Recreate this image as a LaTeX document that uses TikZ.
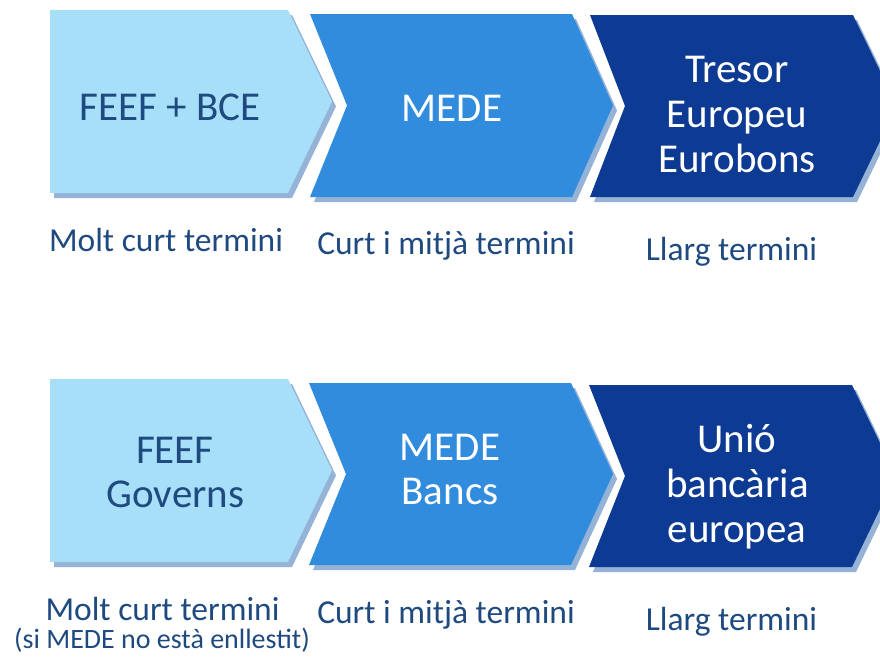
\documentclass[tikz,border=0pt]{standalone}
\usepackage{fontspec}
\setmainfont{Carlito}
\definecolor{lightbox}{HTML}{A7DFF8}
\definecolor{midbox}{HTML}{318CDD}
\definecolor{darkbox}{HTML}{0D3A92}
\definecolor{shade}{HTML}{95B3D7}
\definecolor{ink}{HTML}{1F4A80}
\begin{document}
\begin{tikzpicture}[x=1pt,y=-1pt,
  shadowed/.style={fill=shade, shift={(4,5)}},
  boxtext/.style={font=\fontsize{41}{45}\selectfont, anchor=base, inner sep=0pt},
  labeltext/.style={font=\fontsize{33.5}{36}\selectfont, color=ink, anchor=base, inner sep=0pt},
  notetext/.style={font=\fontsize{28}{30}\selectfont, color=ink, anchor=base, inner sep=0pt}]
\useasboundingbox (0,0) rectangle (880,656);
\fill[white] (0,0) rectangle (880,656);

% ---- upper row of chevrons ----
\fill[shadowed] (50,10) -- (288,10) -- (332,101.5) -- (288,193) -- (50,193) -- cycle;
\fill[lightbox] (50,10) -- (288,10) -- (332,101.5) -- (288,193) -- (50,193) -- cycle;
\fill[shadowed] (310,14) -- (572,14) -- (613,105.5) -- (572,197) -- (310,197) -- (347,105.5) -- cycle;
\fill[midbox] (310,14) -- (572,14) -- (613,105.5) -- (572,197) -- (310,197) -- (347,105.5) -- cycle;
\fill[shadowed] (590,15) -- (853,15) -- (897,106) -- (853,197) -- (590,197) -- (625,106) -- cycle;
\fill[darkbox] (590,15) -- (853,15) -- (897,106) -- (853,197) -- (590,197) -- (625,106) -- cycle;

% ---- lower row of chevrons ----
\fill[shadowed] (50,379) -- (288,379) -- (332,470.5) -- (288,562) -- (50,562) -- cycle;
\fill[lightbox] (50,379) -- (288,379) -- (332,470.5) -- (288,562) -- (50,562) -- cycle;
\fill[shadowed] (309,383) -- (571,383) -- (613,474) -- (571,565) -- (309,565) -- (346,474) -- cycle;
\fill[midbox] (309,383) -- (571,383) -- (613,474) -- (571,565) -- (309,565) -- (346,474) -- cycle;
\fill[shadowed] (589,385) -- (852,385) -- (896,476) -- (852,567) -- (589,567) -- (625,476) -- cycle;
\fill[darkbox] (589,385) -- (852,385) -- (896,476) -- (852,567) -- (589,567) -- (625,476) -- cycle;

% ---- texts in the upper chevrons ----
\node[boxtext, text=ink] (feefbce) at (170,120) {FEEF + BCE};
\node[boxtext, text=white] (mede) at (452,121) {MEDE};
\node[boxtext, text=white] (tresor) at (737,82) {Tresor};
\node[boxtext, text=white] (europeu) at (737,127) {Europeu};
\node[boxtext, text=white] (eurobons) at (737,172) {Eurobons};

% ---- labels below the upper row ----
\node[labeltext] (l1) at (166,251) {Molt curt termini};
\node[labeltext] (l2) at (446,254) {Curt i mitjà termini};
\node[labeltext] (l3) at (731.5,260) {Llarg termini};

% ---- texts in the lower chevrons ----
\node[boxtext, text=ink] (feef) at (175,463) {FEEF};
\node[boxtext, text=ink] (governs) at (175.5,507) {Governs};
\node[boxtext, text=white] (mede2) at (450,460) {MEDE};
\node[boxtext, text=white] (bancs) at (450,504) {Bancs};
\node[boxtext, text=white] (unio) at (737,452) {Unió};
\node[boxtext, text=white] (bancaria) at (737.5,497) {bancària};
\node[boxtext, text=white] (europea) at (737,542) {europea};

% ---- labels below the lower row ----
\node[labeltext] (m1) at (162.5,620) {Molt curt termini};
\node[notetext] (m1b) at (162,648) {(si MEDE no està enllestit)};
\node[labeltext] (m2) at (446,623) {Curt i mitjà termini};
\node[labeltext] (m3) at (731.5,630) {Llarg termini};
\end{tikzpicture}
\end{document}
